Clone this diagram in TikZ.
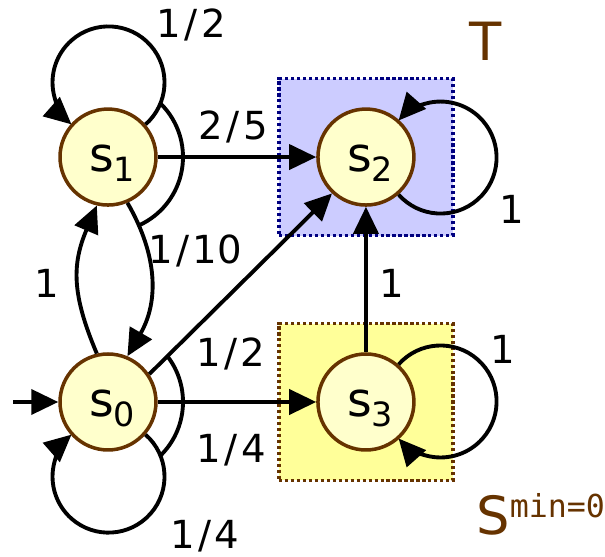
\documentclass[tikz,border=0pt]{standalone}
\usepackage{fontspec}
\setmainfont{DejaVu Sans}
\setmonofont{DejaVu Sans Mono}
\usepackage{tikz}
\usetikzlibrary{arrows.meta, positioning, backgrounds}

\definecolor{brownline}{HTML}{663300}
\definecolor{statefill}{HTML}{FFFFCC}
\definecolor{targetfill}{HTML}{CCCCFF}
\definecolor{navyline}{HTML}{000080}
\definecolor{zerofill}{HTML}{FFFF99}

\newcommand{\stname}[1]{\hspace{4.6pt}s\raisebox{-5.7pt}{\fontsize{19}{20}\selectfont #1}}
\newcommand{\prb}[2]{#1\kern2pt/\kern2pt#2}

\begin{document}
\begin{tikzpicture}[
        x=0.02cm, y=0.02cm,
        on grid,
        node distance=4.9cm and 5.16cm,
        state/.style={
            circle,
            draw=brownline,
            fill=statefill,
            line width=2pt,
            minimum size=1.92cm,
            inner sep=0pt,
            text height=22.4pt,
            text depth=5.7pt,
            font=\fontsize{27}{30}\selectfont
        },
        trans/.style={
            -{Triangle[length=0.54cm, width=0.5cm]},
            line width=2.2pt
        },
        choice/.style={
            line width=2.2pt
        },
        prob/.style={
            inner sep=0pt,
            font=\fontsize{22}{24}\selectfont
        },
        setbox/.style={
            rectangle,
            line width=1.9pt,
            dash pattern=on 1.8pt off 1.6pt,
            minimum width=3.48cm,
            minimum height=3.14cm
        },
        setname/.style={
            inner sep=0pt,
            text=brownline,
            font=\fontsize{30}{32}\selectfont
        }
    ]
        \useasboundingbox (0,0) rectangle (605,557);

        % States
        \node (s0) [state] at (108,155) {\stname{0}};
        \node (s1) [state, above=of s0] {\stname{1}};
        \node (s2) [state, right=of s1] {\stname{2}};
        \node (s3) [state, right=of s0] {\stname{3}};

        % Target set and zero set
        \begin{scope}[on background layer]
            \node (Tset) [setbox, draw=navyline, fill=targetfill] at (s2) {};
            \node (Zset) [setbox, draw=brownline, fill=zerofill] at (s3) {};
        \end{scope}
        \node (Tname) [setname, anchor=base] at (486,496) {T};
        \node (Zname) [setname, anchor=base west] at (476,22) {S\raisebox{10pt}{\fontsize{18}{20}\selectfont\ttfamily min=0}};

        % Transitions
        \coordinate (init) at (13,155);
        \draw [trans] (init) -- (s0);
        \draw [trans] (s1) -- (s2);
        \draw [trans] (s0) -- (s3);
        \draw [trans] (s3) -- (s2);
        \draw [trans] (s0.34) -- (s2.227);
        \draw [trans] (s0.103) .. controls +(113:64) and +(-113:64) .. (s1.-103);
        \draw [trans] (s1.-67) .. controls +(-60:62) and +(60:62) .. (s0.67);
        \draw [trans] (s1.41) arc[start angle=-48.6, end angle=228.6, radius=56];
        \draw [trans] (s0.-41) arc[start angle=48.6, end angle=-228.6, radius=56];
        \draw [trans] (s2.-49) arc[start angle=-138.6, end angle=138.6, radius=56];
        \draw [trans] (s3.49) arc[start angle=138.6, end angle=-138.6, radius=56];

        % Choice arcs
        \draw [choice] (s1.center) ++(46:75) arc[start angle=46, end angle=-65, radius=75];
        \draw [choice] (s0.center) ++(37.7:75) arc[start angle=37.7, end angle=-46, radius=75];

        % Probabilities
        \node (p11) [prob] at (191.5,532) {\prb{1}{2}};
        \node (p12) [prob] at (233.5,430.5) {\prb{2}{5}};
        \node (p10) [prob] at (195,306.5) {\prb{1}{10}};
        \node (p01) [prob] at (47,273.5) {1};
        \node (p02) [prob] at (231,203.5) {\prb{1}{2}};
        \node (p03) [prob] at (231.5,107) {\prb{1}{4}};
        \node (p00) [prob] at (205,21) {\prb{1}{4}};
        \node (p32) [prob] at (392,273.5) {1};
        \node (p22) [prob] at (512,347.5) {1};
        \node (p33) [prob] at (503,207.5) {1};
    \end{tikzpicture}
\end{document}
